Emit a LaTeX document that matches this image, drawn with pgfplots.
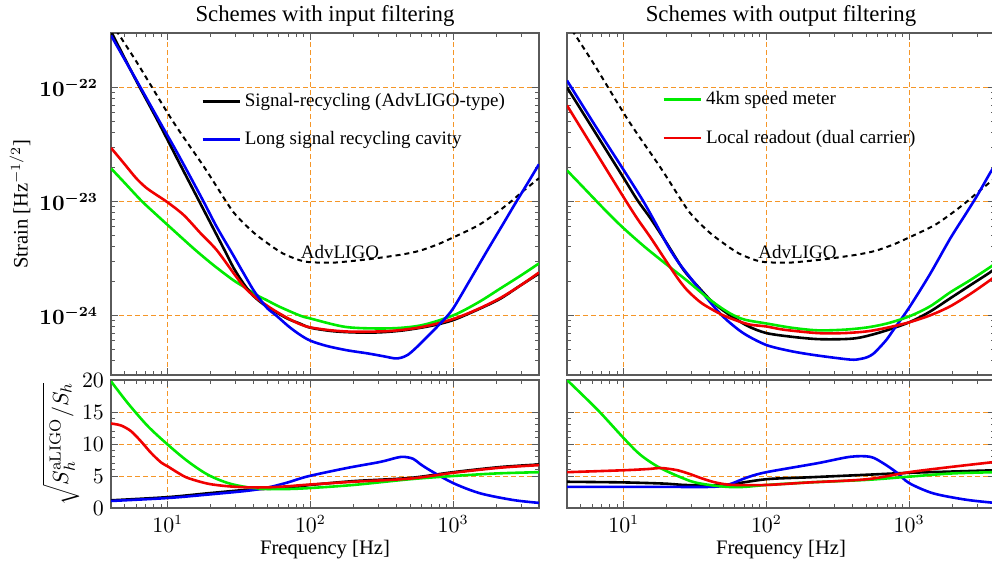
\documentclass[border=0pt]{standalone}
\usepackage[no-math]{fontspec}
\setmainfont{Liberation Serif}
\usepackage{pgfplots}
\pgfplotsset{compat=1.18}
\definecolor{gridorange}{RGB}{245,150,40}
\definecolor{cgreen}{RGB}{0,235,0}
\definecolor{cred}{RGB}{240,0,0}
\definecolor{cblue}{RGB}{0,0,245}
\definecolor{framegray}{RGB}{90,90,90}
\tikzset{
  mycurve/.style={line width=1.3pt, smooth, tension=0.5},
  mydash/.style={black, line width=1pt, dash pattern=on 2.5pt off 2pt, smooth, tension=0.5},
}
\pgfplotsset{
  legend image code/.code={\draw[#1] (0pt,0pt) -- (18.5pt,0pt);},
}
\begin{document}
\begin{tikzpicture}
% ---------------- top left ----------------
\begin{axis}[xmode=log, ymode=log, at={(55.5pt,-16.5pt)}, anchor=north west,
  scale only axis, width=214pt, height=171pt,
  xmin=4, xmax=4000, ymin=3e-25, ymax=3e-22,
  axis line style={framegray, line width=0.6pt},
  every tick/.style={framegray, line width=0.5pt},
  major tick length=3.5pt, minor tick length=2pt, tick align=inside,
  grid=major,
  major grid style={gridorange, dash pattern=on 2.5pt off 1.5pt, line width=0.5pt},
  xticklabels={},
  yticklabel style={font=\fontsize{10.5}{12}\selectfont\boldmath, xshift=-3pt},
  title={Schemes with input filtering},
  title style={font=\fontsize{11.4}{13}\selectfont, at={(0.5,1)}, anchor=base, yshift=0pt},
  ylabel={Strain [Hz$^{-1/2}$]},
  ylabel style={font=\fontsize{10.3}{12}\selectfont, at={(axis description cs:-0.2126,0.5)}, anchor=center},
  legend cell align=left,
  legend style={draw=none, fill=none, font=\fontsize{9.5}{11}\selectfont, row sep=7pt, inner sep=0pt, at={(0.21,0.744)}, anchor=west}]
\addplot[mydash, forget plot] coordinates {(4,3.7e-22) (6,1.7e-22) (10.8,5.1e-23) (18,2.0e-23) (25.9,9.8e-24) (30,7.6e-24) (39.5,5.4e-24) (50,4.3e-24) (64,3.5e-24) (84,3.05e-24) (100,2.93e-24) (140,2.9e-24) (180,2.97e-24) (260,3.12e-24) (361,3.3e-24) (454,3.45e-24) (586,3.7e-24) (780,4.2e-24) (1000,4.83e-24) (1250,5.5e-24) (1545,6.3e-24) (2000,7.9e-24) (2500,9.8e-24) (3140,1.25e-23) (4000,1.6e-23)};
\addplot[cgreen, mycurve, forget plot] coordinates {(4,1.95e-23) (5,1.45e-23) (6.5,1.02e-23) (8,8.0e-24) (10,6.2e-24) (13,4.6e-24) (16,3.65e-24) (21,2.75e-24) (28.6,2.05e-24) (35,1.75e-24) (41.5,1.52e-24) (50,1.35e-24) (60,1.2e-24) (84,1.0e-24) (100,9.4e-25) (180,7.9e-25) (361,7.7e-25) (600,8.2e-25) (1000,1.0e-24) (1500,1.3e-24) (2138,1.72e-24) (3000,2.25e-24) (4000,2.86e-24)};
\addplot[black, mycurve] coordinates {(4,3.1e-22) (6,1.15e-22) (8.5,5.1e-23) (12,2.2e-23) (16.5,1.02e-23) (20.7,5.9e-24) (25.1,3.7e-24) (29,2.6e-24) (34,1.9e-24) (39.5,1.5e-24) (47,1.25e-24) (58,1.06e-24) (70,9.3e-25) (84,8.5e-25) (100,7.8e-25) (140,7.3e-25) (200,7.1e-25) (300,7.1e-25) (450,7.4e-25) (700,8.1e-25) (1000,9.1e-25) (1500,1.13e-24) (2138,1.4e-24) (3000,1.85e-24) (4000,2.33e-24)};
\addlegendentry{Signal-recycling (AdvLIGO-type)}
\addplot[cred, mycurve, forget plot] coordinates {(4,2.95e-23) (5,2.11e-23) (6,1.6e-23) (7,1.33e-23) (8,1.18e-23) (10,9.8e-24) (13,7.55e-24) (17,5.25e-24) (22,3.75e-24) (29,2.34e-24) (35,1.73e-24) (42,1.415e-24) (50,1.21e-24) (58,1.075e-24) (70,9.4e-25) (84,8.4e-25) (100,7.85e-25) (140,7.4e-25) (200,7.2e-25) (361,7.3e-25) (600,7.9e-25) (1000,9.3e-25) (1500,1.14e-24) (2138,1.42e-24) (3000,1.85e-24) (4000,2.38e-24)};
\addplot[cblue, mycurve] coordinates {(4,2.86e-22) (6,1.17e-22) (8.78,5.0e-23) (12,2.5e-23) (17.3,1.07e-23) (22,6.0e-24) (28.1,3.55e-24) (33,2.5e-24) (39.5,1.7e-24) (45,1.35e-24) (50,1.15e-24) (58,9.9e-25) (70,8.05e-25) (84,6.8e-25) (100,6.0e-25) (130,5.4e-25) (180,4.95e-25) (250,4.65e-25) (320,4.4e-25) (390,4.2e-25) (430,4.25e-25) (480,4.5e-25) (550,5.2e-25) (690,6.9e-25) (850,9.0e-25) (1000,1.15e-24) (1300,2.0e-24) (1733,3.7e-24) (2200,6.1e-24) (2700,9.4e-24) (3300,1.42e-23) (4000,2.12e-23)};
\addlegendentry{Long signal recycling cavity}
\node[font=\fontsize{9.5}{11}\selectfont] at (axis cs:161,3.6e-24) {AdvLIGO};
\end{axis}
% ---------------- top right ----------------
\begin{axis}[xmode=log, ymode=log, at={(283.5pt,-16.5pt)}, anchor=north west,
  scale only axis, width=214pt, height=171pt,
  xmin=4, xmax=4000, ymin=3e-25, ymax=3e-22,
  axis line style={framegray, line width=0.6pt},
  every tick/.style={framegray, line width=0.5pt},
  major tick length=3.5pt, minor tick length=2pt, tick align=inside,
  grid=major,
  major grid style={gridorange, dash pattern=on 2.5pt off 1.5pt, line width=0.5pt},
  xticklabels={}, yticklabels={},
  title={Schemes with output filtering},
  title style={font=\fontsize{11.4}{13}\selectfont, at={(0.5,1)}, anchor=base, yshift=0pt},
  legend cell align=left,
  legend style={draw=none, fill=none, font=\fontsize{9.5}{11}\selectfont, row sep=7pt, inner sep=0pt, at={(0.222,0.749)}, anchor=west}]
\addplot[mydash, forget plot] coordinates {(4,3.7e-22) (6,1.7e-22) (10.8,5.1e-23) (18,2.0e-23) (25.9,9.8e-24) (30,7.6e-24) (39.5,5.4e-24) (50,4.3e-24) (64,3.5e-24) (84,3.05e-24) (100,2.93e-24) (140,2.9e-24) (180,2.97e-24) (260,3.12e-24) (361,3.3e-24) (454,3.45e-24) (586,3.7e-24) (780,4.2e-24) (1000,4.83e-24) (1250,5.5e-24) (1545,6.3e-24) (2000,7.9e-24) (2500,9.8e-24) (3140,1.25e-23) (4000,1.6e-23)};
\addplot[black, mycurve, forget plot] coordinates {(4,1.0e-22) (6,4.45e-23) (8,2.5e-23) (10,1.6e-23) (12.5,1.02e-23) (15.4,7.1e-24) (20,4.3e-24) (26.3,2.5e-24) (33,1.8e-24) (40.6,1.36e-24) (50,1.1e-24) (58.7,9.6e-25) (75,8.0e-25) (100,7.0e-25) (150,6.5e-25) (228,6.2e-25) (350,6.2e-25) (454,6.4e-25) (650,7.2e-25) (1000,8.7e-25) (1400,1.08e-24) (1936,1.41e-24) (2700,1.85e-24) (3680,2.38e-24) (4000,2.6e-24)};
\addplot[cblue, mycurve, forget plot] coordinates {(4,1.15e-22) (6,5.1e-23) (8,2.9e-23) (10,1.88e-23) (13.6,1.02e-23) (17,6.2e-24) (20.3,4.1e-24) (24,2.95e-24) (28,2.3e-24) (34.6,1.65e-24) (44,1.15e-24) (53.3,9.0e-25) (70,6.9e-25) (100,5.5e-25) (150,4.85e-25) (228,4.45e-25) (386,4.1e-25) (454,4.15e-25) (508,4.3e-25) (560,4.6e-25) (627,5.3e-25) (700,6.2e-25) (773,7.4e-25) (1000,1.17e-24) (1400,2.3e-24) (1936,4.7e-24) (2500,7.8e-24) (2993,1.12e-23) (3680,1.76e-23) (4000,2.08e-23)};
\addplot[cgreen, mycurve] coordinates {(4,1.87e-23) (5,1.4e-23) (6.37,1.02e-23) (8,7.6e-24) (10,5.8e-24) (14,4.0e-24) (20.3,2.75e-24) (28,2.0e-24) (40.6,1.36e-24) (55,1.05e-24) (70,9.2e-25) (100,8.5e-25) (150,7.8e-25) (228,7.4e-25) (350,7.5e-25) (508,7.85e-25) (700,8.5e-25) (1000,9.8e-25) (1400,1.2e-24) (1936,1.59e-24) (2700,2.05e-24) (3680,2.64e-24) (4000,2.85e-24)};
\addlegendentry{4km speed meter}
\addplot[cred, mycurve] coordinates {(4,6.95e-23) (6,3.05e-23) (8,1.7e-23) (10.3,1.02e-23) (12.5,7.0e-24) (15.4,4.83e-24) (20.3,2.86e-24) (24,2.1e-24) (28,1.65e-24) (34.6,1.3e-24) (42,1.12e-24) (50,1.0e-24) (62,9.0e-25) (77,8.3e-25) (100,8.0e-25) (132,7.5e-25) (228,7.0e-25) (350,7.0e-25) (508,7.25e-25) (700,7.8e-25) (1000,8.7e-25) (1400,1.0e-24) (1936,1.2e-24) (2700,1.55e-24) (3680,2.03e-24) (4000,2.2e-24)};
\addlegendentry{Local readout (dual carrier)}
\node[font=\fontsize{9.5}{11}\selectfont] at (axis cs:165,3.6e-24) {AdvLIGO};
\end{axis}
% ---------------- bottom left ----------------
\begin{axis}[xmode=log, at={(55.5pt,-190pt)}, anchor=north west,
  scale only axis, width=214pt, height=64pt,
  xmin=4, xmax=4000, ymin=0, ymax=20,
  axis line style={framegray, line width=0.6pt},
  every tick/.style={framegray, line width=0.5pt},
  major tick length=3.5pt, minor tick length=2pt, tick align=inside,
  grid=major,
  major grid style={gridorange, dash pattern=on 2.5pt off 1.5pt, line width=0.5pt},
  ytick={5,10,15}, extra y ticks={0,20}, extra y tick style={grid=none},
  minor y tick num=4,
  tick label style={font=\fontsize{10.5}{12}\selectfont},
  xlabel={Frequency [Hz]},
  xlabel style={font=\fontsize{10.3}{12}\selectfont, at={(0.5,0)}, anchor=base, yshift=-23pt},
  ylabel={$\sqrt{S_h^{\rm aLIGO}/S_h}$},
  ylabel style={at={(axis description cs:-0.1168,0.5)}, anchor=center, font=\fontsize{11}{12}\selectfont}]
\addplot[black, mycurve] coordinates {(4,1.2) (10,1.7) (19.1,2.3) (36.4,2.86) (50.3,3.0) (69.5,3.15) (100,3.6) (200,4.2) (500,4.7) (1000,5.6) (2138,6.4) (4000,6.8)};
\addplot[cblue, mycurve] coordinates {(4,1.1) (10,1.56) (19.1,2.1) (36.4,2.7) (50.3,3.2) (69.5,4.0) (96,4.95) (180,6.25) (308,7.2) (400,7.85) (450,8.0) (524,7.7) (586,6.9) (688,5.9) (1000,3.9) (1545,2.3) (2636,1.25) (4000,0.8)};
\addplot[cgreen, mycurve] coordinates {(4,19.8) (5.24,16.4) (7.24,12.8) (10,9.9) (13.8,7.3) (19.1,5.2) (26.4,3.9) (36.4,3.23) (50.3,2.97) (69.5,2.97) (96,3.1) (200,3.6) (500,4.5) (1000,5.0) (2000,5.4) (4000,5.6)};
\addplot[cred, mycurve] coordinates {(4,13.2) (4.7,12.9) (5.53,12.0) (6.5,10.4) (7.64,8.6) (9,7.1) (10,6.5) (11.8,5.5) (13.8,4.7) (19.1,3.8) (26.4,3.4) (36.4,3.23) (50.3,3.23) (69.5,3.4) (96,3.65) (200,4.1) (500,4.6) (1000,5.5) (2138,6.3) (4000,6.7)};
\end{axis}
% ---------------- bottom right ----------------
\begin{axis}[xmode=log, at={(283.5pt,-190pt)}, anchor=north west,
  scale only axis, width=214pt, height=64pt,
  xmin=4, xmax=4000, ymin=0, ymax=20,
  axis line style={framegray, line width=0.6pt},
  every tick/.style={framegray, line width=0.5pt},
  major tick length=3.5pt, minor tick length=2pt, tick align=inside,
  grid=major,
  major grid style={gridorange, dash pattern=on 2.5pt off 1.5pt, line width=0.5pt},
  ytick={5,10,15}, extra y ticks={0,20}, extra y tick style={grid=none},
  minor y tick num=4,
  yticklabels={}, extra y tick labels={},
  tick label style={font=\fontsize{10.5}{12}\selectfont},
  xlabel={Frequency [Hz]},
  xlabel style={font=\fontsize{10.3}{12}\selectfont, at={(0.5,0)}, anchor=base, yshift=-23pt}]
\addplot[black, mycurve] coordinates {(4,4.1) (10,4.0) (20,3.8) (26.3,3.6) (50,3.6) (100,4.5) (200,4.8) (508,5.2) (1000,5.5) (2000,5.7) (4000,5.9)};
\addplot[cblue, mycurve] coordinates {(4,3.3) (10,3.3) (20,3.3) (40.6,3.3) (53.3,3.6) (73.7,4.8) (100,5.6) (228,7.0) (386,8.0) (534,8.0) (658,7.0) (824,5.5) (1000,3.9) (1472,2.3) (2500,1.3) (4000,0.8)};
\addplot[cgreen, mycurve] coordinates {(4,20) (6.58,15.3) (10,10.9) (13.1,8.3) (18.2,6.2) (29.4,4.2) (40,3.6) (53.3,3.3) (70,3.3) (100,3.6) (200,4.0) (508,4.4) (1000,4.9) (2000,5.4) (4000,5.6)};
\addplot[cred, mycurve] coordinates {(4,5.6) (10,5.9) (15,6.1) (18.2,6.25) (23.8,5.9) (30,5.2) (34.5,4.7) (42,4.1) (50,3.75) (60,3.6) (100,3.6) (200,4.0) (508,4.5) (1000,5.6) (1936,6.4) (4000,7.2)};
\end{axis}
\pgfresetboundingbox
\useasboundingbox (0pt,0pt) rectangle (496pt,-282pt);
\end{tikzpicture}
\end{document}
